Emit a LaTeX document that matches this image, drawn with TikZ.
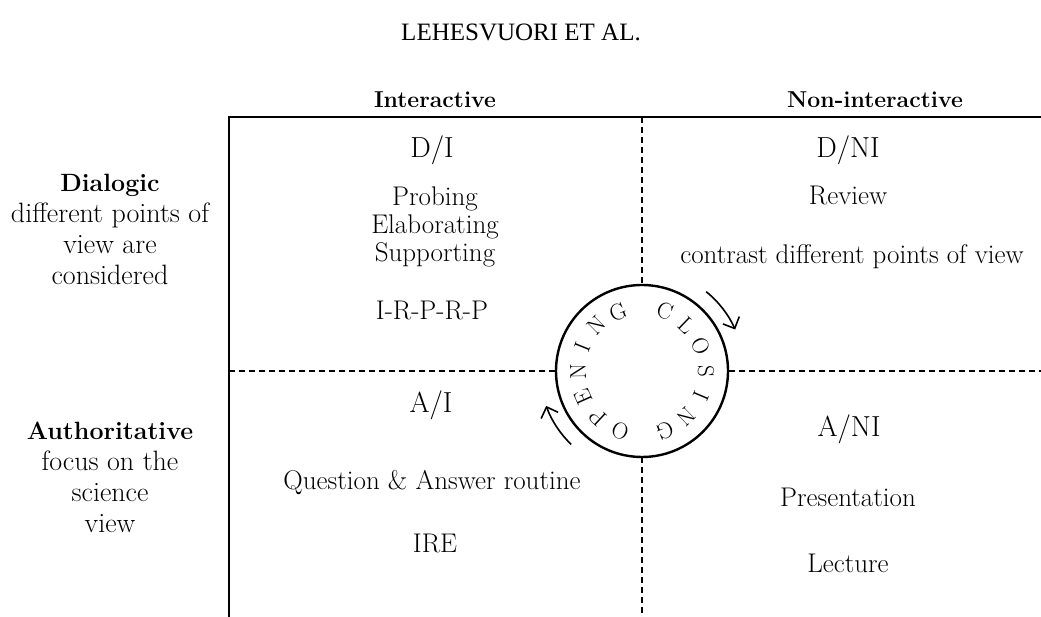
\documentclass[tikz,border=0pt]{standalone}
\usepackage{fontspec}
\newfontfamily\runhead{Liberation Serif}
\usetikzlibrary{arrows.meta}

\tikzset{
  cell/.style={anchor=base, font=\fontsize{27}{31}\selectfont},
  code/.style={anchor=base, font=\fontsize{29}{35}\selectfont},
  head/.style={anchor=base, font=\fontsize{23}{27}\selectfont\bfseries},
  side/.style={align=center, font=\fontsize{28}{31}\selectfont},
  grid/.style={line width=1.3pt},
  split/.style={line width=1.3pt, dash pattern=on 6pt off 4pt},
  turn/.style={line width=1.6pt, -{Straight Barb[length=9pt,width=18pt]}},
  letter/.style={font=\fontsize{23}{27}\selectfont, inner sep=0pt}
}

\begin{document}
\begin{tikzpicture}[x=1pt,y=1pt]
            \useasboundingbox (0,0) rectangle (1041,617);
            \node[anchor=base, font=\runhead\fontsize{25}{29}\selectfont] (title) at (521,576) {LEHESVUORI ET AL.};

            % frame and quadrants
            \coordinate (tl) at (229,500);
            \coordinate (tr) at (1041,500);
            \coordinate (bl) at (229,0);
            \coordinate (mt) at (642,500);
            \coordinate (mb) at (642,0);
            \coordinate (ml) at (229,246);
            \coordinate (mr) at (1041,246);
            \draw[grid] (tr) -- (tl) -- (bl);
            \draw[split] (mt) -- (mb);
            \draw[split] (ml) -- (mr);

            \node[head] (inter) at (435,509) {Interactive};
            \node[head] (noninter) at (875,509) {Non-interactive};

            \node[side] (dial) at (110,388) {{\fontsize{25}{31}\selectfont\bfseries Dialogic}\\different points of\\view are\\considered};
            \node[side] (auth) at (110,140) {{\fontsize{25}{31}\selectfont\bfseries Authoritative}\\focus on the\\science\\view};

            % D/I
            \node[code] (di) at (432,459) {D/I};
            \node[cell] (probe) at (435,411) {Probing};
            \node[cell] (elab) at (435,383) {Elaborating};
            \node[cell] (supp) at (435,355) {Supporting};
            \node[cell] (irprp) at (432,297) {I-R-P-R-P};

            % D/NI
            \node[code] (dni) at (848,459) {D/NI};
            \node[cell] (review) at (848,412) {Review};
            \node[cell] (contrast) at (852,353) {contrast different points of view};

            % A/I
            \node[code] (ai) at (431,204) {A/I};
            \node[cell] (qa) at (432,127) {Question \& Answer routine};
            \node[cell] (ire) at (435,64) {IRE};

            % A/NI
            \node[code] (ani) at (849,180) {A/NI};
            \node[cell] (pres) at (848,110) {Presentation};
            \node[cell] (lect) at (848,44) {Lecture};

            % opening / closing cycle
            \node[circle, draw, fill=white, line width=2.4pt, minimum size=172pt] (cycle) at (642,246) {};
            \foreach \ch [count=\i, evaluate=\i as \a using 273-23*\i] in {O,P,E,N,I,N,G}
              \node[letter, rotate=\a-90] at ([shift={(\a:64)}]cycle.center) {\ch};
            \foreach \ch [count=\i, evaluate=\i as \a using 92-23*\i] in {C,L,O,S,I,N,G}
              \node[letter, rotate=\a-90] at ([shift={(\a:64)}]cycle.center) {\ch};
            \draw[turn] ([shift={(51:102)}]cycle.center) arc[start angle=51, end angle=24, radius=102];
            \draw[turn] ([shift={(226:102)}]cycle.center) arc[start angle=226, end angle=200, radius=102];
\end{tikzpicture}
\end{document}
